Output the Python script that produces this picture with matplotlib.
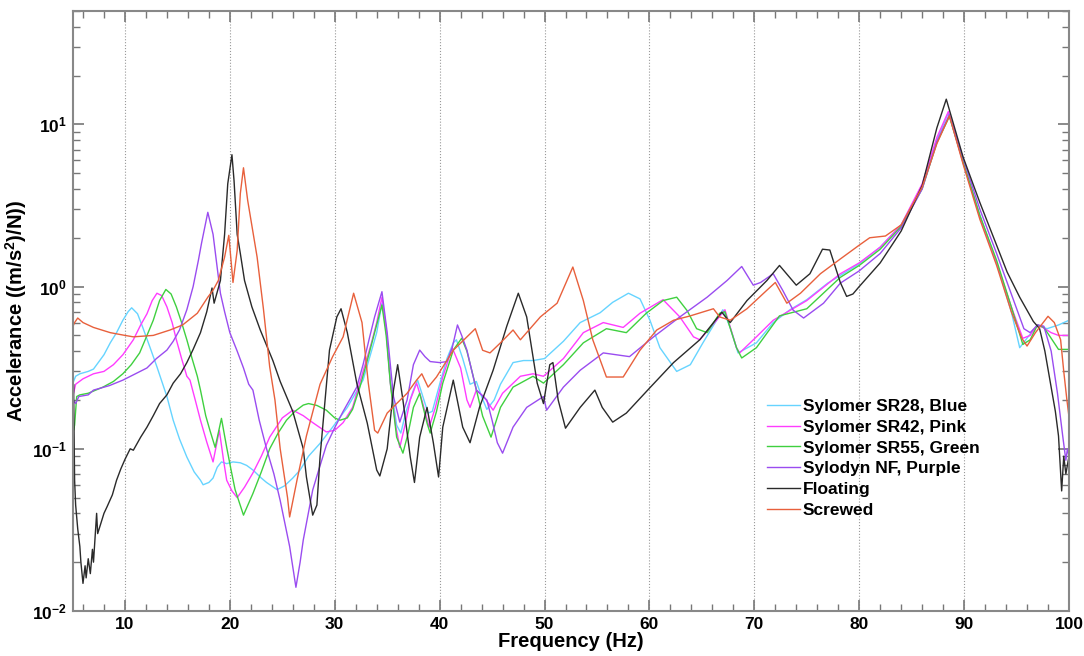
import matplotlib
matplotlib.use("Agg")
import matplotlib.pyplot as plt
from matplotlib.ticker import FixedLocator, FuncFormatter, LogLocator, NullFormatter, MultipleLocator
import numpy as np

# ---------------- data ----------------
blue_f = [5.0, 5.1, 5.3, 5.7, 6.5, 7.0, 8.0, 8.6, 9.2, 9.8, 10.3, 10.64, 11.2, 11.7, 12.4, 13.05, 14.0, 14.6,
          15.2, 15.9, 16.6, 17.2, 17.45, 18.0, 18.4, 18.8, 19.2, 19.7, 20.3, 21.0, 21.6, 22.2, 23.0, 23.5, 24.5,
          25.2, 26.0, 26.7, 27.5, 28.6, 29.8, 31.2, 32.7, 33.5, 34.0, 34.5, 34.9, 35.3, 35.9, 36.3, 36.8, 37.5,
          37.9, 38.4, 38.9, 39.3, 40.0, 40.7, 41.3, 41.6, 42.2, 42.9, 43.5, 44.0, 44.5, 45.2, 45.8, 47.0, 48.0,
          48.9, 50.0, 51.8, 53.4, 55.3, 56.5, 58.0, 59.1, 60.05, 61.0, 62.6, 63.9, 65.1, 66.4, 67.0, 67.7, 68.45,
          70.2, 71.8, 73.4, 75.0, 77.0, 80.0, 82.0, 84.0, 86.0, 87.4, 88.5, 89.9, 91.5, 93.1, 94.5, 95.3, 96.2,
          97.0, 97.9, 99.0, 100.0]
blue_v = [0.35, 0.26, 0.28, 0.29, 0.30, 0.31, 0.38, 0.45, 0.52, 0.62, 0.70, 0.74, 0.68, 0.56, 0.42, 0.32, 0.21, 0.15,
          0.115, 0.089, 0.072, 0.064, 0.060, 0.062, 0.066, 0.077, 0.083, 0.081, 0.083, 0.082, 0.079, 0.074, 0.066, 0.062, 0.056,
          0.059, 0.066, 0.074, 0.09, 0.108, 0.136, 0.18, 0.265, 0.40, 0.52, 0.79, 0.55, 0.26, 0.14, 0.125, 0.17, 0.23,
          0.265, 0.21, 0.166, 0.17, 0.25, 0.36, 0.45, 0.47, 0.36, 0.25, 0.26, 0.21, 0.175, 0.2, 0.25, 0.34, 0.35,
          0.35, 0.36, 0.46, 0.60, 0.69, 0.80, 0.91, 0.84, 0.62, 0.42, 0.30, 0.33, 0.45, 0.62, 0.72, 0.56, 0.39,
          0.45, 0.6, 0.72, 0.83, 1.05, 1.38, 1.75, 2.4, 4.2, 8.0, 11.8, 5.9, 2.75, 1.4, 0.7, 0.42, 0.5,
          0.58, 0.55, 0.58, 0.62]

pink_f = [5.0, 5.1, 5.3, 6.0, 7.0, 8.0, 8.9, 9.8, 10.8, 11.5, 12.1, 12.6, 13.05, 13.5, 14.0, 14.5, 14.9, 15.4, 15.9,
          16.2, 16.7, 17.2, 17.8, 18.4, 19.0, 19.4, 19.7, 20.2, 20.7, 21.4, 22.2, 23.0, 23.8, 25.0, 26.0, 27.0, 27.9,
          29.2, 30.0, 30.8, 31.7, 32.7, 33.5, 34.0, 34.5, 34.9, 35.3, 35.8, 36.2, 36.7, 37.2, 37.8, 38.3, 39.0, 39.6,
          40.3, 41.2, 42.0, 42.6, 42.9, 43.5, 44.2, 45.1, 46.0, 47.7, 48.9, 49.9, 51.8, 53.7, 55.6, 57.5, 59.1, 61.3,
          62.9, 64.2, 64.8, 66.4, 67.2, 68.3, 68.6, 70.2, 71.8, 75.0, 78.2, 80.0, 82.0, 84.0, 86.0, 87.4, 88.5, 89.9,
          91.5, 93.1, 94.5, 95.6, 96.3, 97.0, 97.5, 98.3, 99.0, 100.0]
pink_v = [0.26, 0.22, 0.25, 0.27, 0.29, 0.30, 0.33, 0.38, 0.47, 0.58, 0.68, 0.82, 0.91, 0.88, 0.75, 0.6, 0.47, 0.36, 0.28,
          0.265, 0.2, 0.15, 0.11, 0.083, 0.13, 0.085, 0.064, 0.055, 0.05, 0.058, 0.071, 0.09, 0.118, 0.155, 0.173, 0.16, 0.145,
          0.127, 0.13, 0.145, 0.18, 0.30, 0.45, 0.6, 0.86, 0.55, 0.254, 0.14, 0.102, 0.14, 0.2, 0.254, 0.2, 0.136, 0.18,
          0.277, 0.42, 0.315, 0.2, 0.18, 0.23, 0.21, 0.173, 0.22, 0.28, 0.29, 0.28, 0.36, 0.52, 0.6, 0.56, 0.685, 0.83,
          0.65, 0.49, 0.47, 0.62, 0.72, 0.42, 0.39, 0.49, 0.62, 0.82, 1.2, 1.4, 1.75, 2.4, 4.3, 8.3, 12.0, 5.8,
          2.7, 1.4, 0.75, 0.48, 0.5, 0.58, 0.56, 0.52, 0.5, 0.5]

green_f = [5.0, 5.1, 5.2, 5.4, 5.7, 6.5, 7.9, 8.9, 9.8, 10.6, 11.4, 12.1, 12.7, 13.3, 13.9, 14.4, 14.9, 15.4, 15.9,
           16.4, 16.9, 17.2, 17.7, 18.1, 18.6, 19.2, 19.7, 20.1, 20.5, 21.3, 22.2, 23.0, 23.8, 24.6, 25.4, 26.2, 27.0,
           27.5, 28.3, 29.2, 30.0, 30.5, 31.2, 31.7, 32.4, 33.1, 33.8, 34.5, 34.9, 35.3, 35.9, 36.5, 37.0, 37.5, 38.1,
           38.8, 39.1, 39.7, 40.3, 41.3, 42.1, 42.6, 43.2, 44.1, 44.9, 45.8, 47.0, 48.9, 49.9, 51.8, 53.7, 55.9, 57.8,
           59.7, 61.3, 62.6, 63.6, 64.5, 65.5, 66.7, 67.2, 68.3, 68.8, 70.2, 72.4, 75.0, 78.2, 80.0, 82.0, 84.0, 86.0,
           87.4, 88.6, 89.9, 91.5, 93.1, 94.5, 95.6, 96.3, 97.0, 97.6, 98.3, 99.0, 100.0]
green_v = [0.22, 0.13, 0.14, 0.21, 0.215, 0.22, 0.24, 0.26, 0.29, 0.33, 0.39, 0.5, 0.62, 0.82, 0.96, 0.9, 0.75, 0.6, 0.47,
           0.36, 0.28, 0.23, 0.16, 0.13, 0.102, 0.154, 0.102, 0.075, 0.056, 0.039, 0.053, 0.072, 0.1, 0.125, 0.15, 0.17, 0.186,
           0.19, 0.185, 0.173, 0.155, 0.15, 0.155, 0.175, 0.24, 0.35, 0.52, 0.77, 0.5, 0.254, 0.118, 0.094, 0.125, 0.18, 0.22,
           0.144, 0.125, 0.17, 0.254, 0.406, 0.48, 0.4, 0.28, 0.159, 0.118, 0.18, 0.24, 0.28, 0.254, 0.33, 0.45, 0.55, 0.52,
           0.685, 0.82, 0.86, 0.71, 0.55, 0.52, 0.685, 0.7, 0.42, 0.363, 0.42, 0.66, 0.73, 1.14, 1.35, 1.7, 2.35, 4.0,
           7.7, 11.2, 5.9, 2.75, 1.45, 0.75, 0.44, 0.47, 0.58, 0.56, 0.48, 0.41, 0.41]

purple_f = [5.0, 5.05, 5.3, 5.6, 6.5, 7.0, 8.5, 9.8, 11.0, 12.1, 13.0, 14.0, 14.6, 15.2, 15.9, 16.5, 17.0, 17.3, 17.9,
            18.4, 18.8, 19.1, 19.5, 20.0, 20.7, 21.3, 21.8, 22.2, 22.8, 23.5, 24.2, 24.8, 25.7, 26.3, 26.7, 27.0, 27.9,
            28.5, 29.2, 30.0, 30.8, 31.6, 32.1, 32.7, 33.3, 33.8, 34.5, 35.0, 35.6, 36.2, 36.9, 37.5, 38.1, 38.6, 39.1,
            40.0, 40.7, 41.2, 41.7, 42.1, 42.6, 43.5, 44.5, 45.0, 45.5, 46.0, 47.0, 48.3, 49.9, 50.2, 51.8, 53.4, 55.6,
            58.1, 60.4, 62.9, 65.5, 67.4, 68.8, 69.9, 70.6, 71.8, 72.7, 73.7, 74.7, 76.6, 78.2, 80.0, 82.0, 84.0, 86.0,
            87.4, 88.6, 89.9, 91.5, 93.1, 94.5, 95.7, 96.3, 97.0, 97.6, 98.3, 98.9, 99.4, 99.7, 99.85, 100.0]
purple_v = [0.3, 0.2, 0.19, 0.21, 0.215, 0.23, 0.245, 0.265, 0.29, 0.315, 0.36, 0.406, 0.46, 0.54, 0.72, 1.0, 1.45, 1.85, 2.87,
            2.1, 1.3, 0.91, 0.7, 0.52, 0.4, 0.315, 0.25, 0.23, 0.15, 0.1, 0.07, 0.048, 0.025, 0.014, 0.02, 0.0274, 0.0557,
            0.075, 0.105, 0.135, 0.17, 0.21, 0.24, 0.33, 0.48, 0.65, 0.93, 0.52, 0.21, 0.146, 0.2, 0.33, 0.406, 0.37, 0.345,
            0.34, 0.345, 0.42, 0.58, 0.5, 0.406, 0.23, 0.2, 0.15, 0.109, 0.094, 0.136, 0.18, 0.21, 0.173, 0.24, 0.305, 0.39,
            0.37, 0.49, 0.65, 0.86, 1.09, 1.33, 1.02, 1.06, 1.2, 0.95, 0.716, 0.64, 0.79, 1.05, 1.25, 1.6, 2.3, 4.0,
            7.8, 11.5, 6.2, 3.0, 1.6, 0.9, 0.55, 0.52, 0.58, 0.57, 0.4, 0.22, 0.12, 0.085, 0.1, 0.09]

black_f = [5.0, 5.05, 5.1, 5.2, 5.3, 5.5, 5.7, 5.8, 6.0, 6.2, 6.3, 6.5, 6.7, 6.9, 7.0, 7.2, 7.3, 7.4, 8.0, 8.3, 8.8,
           9.2, 9.6, 10.0, 10.5, 10.8, 11.5, 12.1, 12.7, 13.3, 14.0, 14.6, 15.3, 15.9, 16.5, 17.2, 17.8, 18.3, 18.5,
           19.1, 19.5, 19.8, 20.2, 20.4, 20.7, 21.0, 21.4, 22.1, 22.9, 24.1, 24.8, 25.4, 26.0, 27.0, 27.3, 27.9, 28.3,
           28.6, 29.5, 30.2, 30.6, 31.2, 32.1, 33.1, 34.0, 34.3, 35.0, 35.6, 36.0, 36.5, 37.2, 37.6, 38.1, 38.8, 39.4,
           39.9, 40.3, 41.3, 42.2, 42.9, 43.8, 45.1, 46.4, 47.5, 48.3, 49.3, 49.9, 50.5, 50.8, 51.3, 52.0, 53.4, 54.8,
           55.5, 56.5, 57.8, 60.1, 62.3, 64.8, 66.9, 67.7, 69.3, 71.2, 72.4, 74.0, 75.3, 76.5, 77.2, 78.2, 78.8, 79.4,
           80.0, 82.0, 84.0, 86.0, 87.4, 88.3, 89.0, 89.9, 91.5, 93.1, 94.1, 95.3, 96.6, 97.2, 97.7, 98.2, 98.7, 99.0,
           99.3, 99.5, 99.7, 100.0]
black_v = [0.3, 0.18, 0.25, 0.064, 0.045, 0.032, 0.025, 0.02, 0.0148, 0.019, 0.016, 0.021, 0.017, 0.024, 0.02, 0.032, 0.04, 0.03, 0.04, 0.044, 0.052,
           0.064, 0.075, 0.086, 0.1, 0.098, 0.118, 0.136, 0.16, 0.19, 0.215, 0.254, 0.29, 0.34, 0.41, 0.52, 0.7, 0.98, 0.79,
           1.09, 2.1, 4.3, 6.5, 4.5, 2.1, 1.6, 1.09, 0.75, 0.54, 0.35, 0.26, 0.21, 0.17, 0.1, 0.067, 0.039, 0.045,
           0.089, 0.406, 0.65, 0.73, 0.52, 0.254, 0.144, 0.074, 0.068, 0.1, 0.23, 0.33, 0.2, 0.089, 0.062, 0.118, 0.18, 0.109,
           0.067, 0.136, 0.265, 0.136, 0.109, 0.18, 0.305, 0.57, 0.91, 0.65, 0.254, 0.19, 0.33, 0.34, 0.2, 0.134, 0.18, 0.23,
           0.18, 0.146, 0.166, 0.24, 0.34, 0.47, 0.695, 0.6, 0.82, 1.09, 1.35, 1.02, 1.2, 1.7, 1.68, 1.06, 0.87, 0.9,
           1.0, 1.4, 2.2, 4.2, 9.5, 14.3, 10.0, 6.3, 3.3, 1.8, 1.23, 0.86, 0.61, 0.55, 0.4, 0.26, 0.17, 0.12,
           0.055, 0.09, 0.07, 0.09]

red_f = [5.0, 5.2, 5.5, 6.0, 7.0, 8.6, 10.0, 10.8, 12.7, 14.3, 15.5, 16.9, 17.9, 18.4, 18.9, 19.5, 19.9, 20.3, 20.7,
         21.0, 21.3, 21.7, 22.6, 23.2, 23.8, 24.3, 24.8, 25.5, 25.7, 26.4, 27.3, 28.6, 29.8, 30.8, 31.8, 32.6, 33.2,
         33.8, 34.1, 35.0, 35.9, 36.9, 37.8, 38.3, 38.9, 39.7, 41.3, 43.4, 44.1, 44.8, 45.8, 47.0, 47.7, 49.6, 51.2,
         52.7, 53.7, 54.6, 55.9, 57.5, 59.1, 60.7, 62.3, 63.9, 66.1, 66.7, 67.7, 69.3, 71.2, 72.0, 73.1, 74.4, 76.3,
         78.2, 80.0, 81.0, 82.5, 84.0, 86.0, 87.4, 88.6, 89.9, 91.5, 93.1, 94.5, 95.5, 96.0, 96.8, 98.0, 98.6, 99.2,
         99.5, 99.8, 100.0]
red_v = [0.56, 0.6, 0.64, 0.6, 0.56, 0.52, 0.5, 0.49, 0.5, 0.54, 0.58, 0.685, 0.86, 0.95, 1.09, 1.52, 2.07, 1.06, 1.67,
         3.75, 5.4, 3.4, 1.52, 0.73, 0.32, 0.2, 0.1, 0.05, 0.038, 0.064, 0.12, 0.25, 0.37, 0.49, 0.91, 0.6, 0.254,
         0.13, 0.125, 0.166, 0.19, 0.22, 0.265, 0.29, 0.24, 0.277, 0.405, 0.55, 0.405, 0.39, 0.45, 0.54, 0.47, 0.65, 0.79,
         1.32, 0.82, 0.47, 0.277, 0.277, 0.405, 0.54, 0.62, 0.66, 0.73, 0.65, 0.62, 0.73, 0.95, 1.06, 0.79, 0.91, 1.2,
         1.48, 1.8, 2.0, 2.05, 2.4, 4.1, 7.6, 11.3, 5.7, 2.6, 1.35, 0.7, 0.48, 0.43, 0.52, 0.656, 0.6, 0.47,
         0.3, 0.2, 0.157]

labels = ["Sylomer SR28, Blue", "Sylomer SR42, Pink", "Sylomer SR55, Green",
          "Sylodyn NF, Purple", "Floating", "Screwed"]
x_ticks = [10, 20, 30, 40, 50, 60, 70, 80, 90, 100]

# ---------------- style ----------------
plt.rcParams['font.family'] = ['Liberation Sans', 'DejaVu Sans']
plt.rcParams['font.weight'] = 'bold'
plt.rcParams['mathtext.fontset'] = 'custom'
plt.rcParams['mathtext.rm'] = 'Liberation Sans:bold'
plt.rcParams['mathtext.bf'] = 'Liberation Sans:bold'
plt.rcParams['mathtext.it'] = 'Liberation Sans:bold:italic'
plt.rcParams['mathtext.default'] = 'rm'

colors = ['#66d4ff', '#ff3cff', '#3fd03f', '#9a4cf0', '#2a2a2a', '#e8603c']
series = [(blue_f, blue_v), (pink_f, pink_v), (green_f, green_v),
          (purple_f, purple_v), (black_f, black_v), (red_f, red_v)]

fig = plt.figure(figsize=(10.84, 6.56), dpi=100)
ax = fig.add_axes([72.5 / 1084, 45 / 656, 996.5 / 1084, 600 / 656])

for (f, v), c, lab in zip(series, colors, labels):
    ax.plot(f, v, color=c, lw=1.0, label=lab)

ax.set_yscale('log')
ax.set_xlim(5, 100)
ax.set_ylim(0.01, 50)

ax.xaxis.set_major_locator(FixedLocator(x_ticks))
ax.xaxis.set_minor_locator(MultipleLocator(2))
ax.set_xticklabels([str(t) for t in x_ticks])
ax.yaxis.set_major_locator(FixedLocator([0.01, 0.1, 1, 10]))
ax.yaxis.set_major_formatter(FuncFormatter(lambda y, p: r'$10^{%d}$' % int(round(np.log10(y)))))
ax.yaxis.set_minor_locator(LogLocator(base=10, subs=np.arange(2, 10)))
ax.yaxis.set_minor_formatter(NullFormatter())

ax.tick_params(which='both', direction='in', top=True, right=True, color='#777777')
ax.tick_params(which='major', length=8, width=1.2, labelsize=12.5, pad=4)
ax.tick_params(which='minor', length=5, width=1.0)
for s in ax.spines.values():
    s.set_color('#888888')
    s.set_linewidth(1.5)

ax.grid(True, which='major', axis='x', linestyle=':', color='#999999', linewidth=0.8)

ax.set_xlabel('Frequency (Hz)', fontsize=14.5, fontweight='bold', labelpad=0)
ax.set_ylabel(r'Accelerance ((m/s$^{2}$)/N))', fontsize=14.5, fontweight='bold', labelpad=2)

leg = ax.legend(loc='upper left', bbox_to_anchor=(0.69, 0.365), frameon=False,
                fontsize=12.5, handlelength=1.9, handletextpad=0.15, labelspacing=0.32,
                borderaxespad=0)
for t in leg.get_texts():
    t.set_fontweight('bold')

fig.savefig('out.png', dpi=100)
